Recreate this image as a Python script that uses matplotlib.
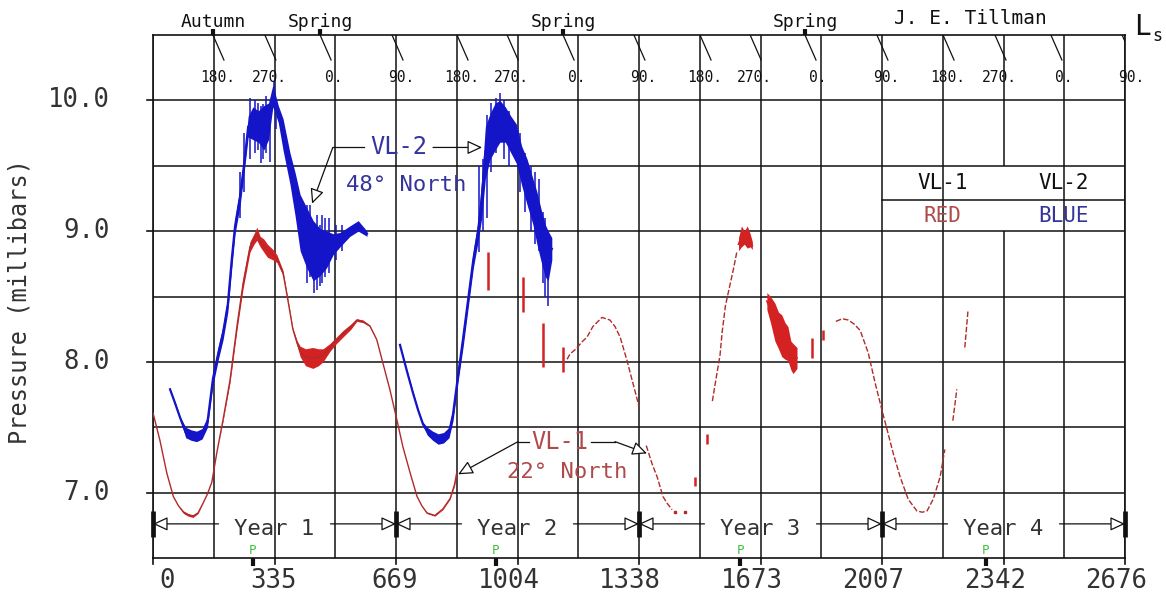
import matplotlib
matplotlib.use("Agg")
import matplotlib.pyplot as plt
import numpy as np

plt.rcParams["font.family"] = ["DejaVu Sans Mono", "DejaVu Sans"]

INK = "#111111"
GREY = "#333333"
BLUE = "#1414c8"
RED = "#d42222"
RED_THIN = "#b02a2a"
LBL_BLUE = "#34349c"
LBL_RED = "#b04a4a"
GREEN = "#3cc03c"

# ---- axes / annotation data (sols since VL-1 landing, pressure in mbar)
x_ticks = [0, 335, 669, 1004, 1338, 1673, 2007, 2342, 2676]
x_tick_labels = ["0", "335", "669", "1004", "1338", "1673", "2007", "2342", "2676"]
y_ticks = [7.0, 8.0, 9.0, 10.0]
y_tick_labels = ["7.0", "8.0", "9.0", "10.0"]
year_bounds = [0, 669, 1338, 2007, 2676]
year_names = ["Year 1", "Year 2", "Year 3", "Year 4"]
perihelion_sol = [275, 944, 1617, 2293]
ls_sol = [165, 308, 460, 658, 837, 975, 1129, 1324, 1506, 1644, 1795, 1993, 2175, 2318, 2472, 2668]
ls_label = ["180.", "270.", "0.", "90."] * 4
season_sol = [165, 460, 1129, 1795]
season_name = ["Autumn", "Spring", "Spring", "Spring"]

# ---- VL-2 (48 N), daily range envelope
vl2_y1_sol = [47, 60, 75, 90, 105, 120, 135, 150, 165, 180, 193, 206, 217, 226, 240, 253, 262,
              275, 290, 305, 318, 330, 345, 358, 377, 391, 405, 423, 441, 460, 478, 496, 515,
              542, 565, 589]
vl2_y1_lo = [7.79, 7.68, 7.56, 7.42, 7.40, 7.39, 7.41, 7.50, 7.82, 8.02, 8.17, 8.38, 8.72, 8.98,
             9.20, 9.50, 9.72, 9.70, 9.68, 9.62, 9.70, 9.95, 9.83, 9.62, 9.36, 9.12, 8.85, 8.72,
             8.62, 8.66, 8.72, 8.82, 8.88, 8.96, 9.00, 8.96]
vl2_y1_hi = [7.79, 7.70, 7.58, 7.50, 7.48, 7.47, 7.49, 7.58, 7.92, 8.12, 8.28, 8.50, 8.86, 9.10,
             9.34, 9.62, 9.88, 9.95, 9.92, 9.96, 9.98, 10.12, 9.96, 9.86, 9.60, 9.45, 9.28, 9.18,
             9.08, 9.02, 9.00, 8.98, 8.99, 9.04, 9.08, 9.00]
vl2_y2_sol = [680, 699, 716, 730, 743, 755, 770, 785, 800, 815, 826, 840, 854, 868, 882, 895, 905,
              915, 928, 942, 955, 970, 985, 1000, 1015, 1030, 1046, 1057, 1070, 1080, 1088, 1098]
vl2_y2_lo = [8.13, 7.92, 7.75, 7.62, 7.51, 7.44, 7.40, 7.37, 7.38, 7.42, 7.55, 7.85, 8.12, 8.42,
             8.72, 8.92, 9.10, 9.40, 9.55, 9.62, 9.68, 9.68, 9.60, 9.52, 9.35, 9.20, 9.05, 8.90,
             8.75, 8.65, 8.62, 8.78]
vl2_y2_hi = [8.13, 7.94, 7.77, 7.64, 7.54, 7.50, 7.47, 7.45, 7.46, 7.50, 7.65, 7.95, 8.25, 8.55,
             8.85, 9.08, 9.40, 9.80, 9.90, 9.98, 10.00, 9.95, 9.88, 9.82, 9.65, 9.55, 9.40, 9.30,
             9.15, 9.05, 9.00, 8.95]
vl2_spike_sol = [240, 250, 266, 280, 288, 296, 304, 312, 322, 333, 340, 425, 432, 444, 452, 459,
                 466, 473, 484, 505, 520,
                 898, 908, 919, 930, 943, 955, 965, 980, 1010, 1025, 1040, 1052, 1062, 1075, 1080,
                 1088]
vl2_spike_lo = [9.10, 9.30, 9.55, 9.60, 9.62, 9.52, 9.55, 9.60, 9.53, 9.95, 9.78, 8.60, 8.65, 8.53,
                8.55, 8.58, 8.60, 8.65, 8.68, 8.78, 8.85,
                8.84, 9.00, 9.10, 9.45, 9.60, 9.75, 9.55, 9.50, 9.30, 9.15, 9.00, 8.90, 8.85, 8.60,
                8.50, 8.43]
vl2_spike_hi = [9.45, 9.75, 10.02, 10.00, 9.98, 9.96, 9.97, 10.03, 9.90, 10.15, 10.00, 9.20, 9.20,
                9.00, 9.12, 9.05, 9.12, 9.10, 9.10, 9.05, 9.05,
                9.50, 9.55, 9.89, 9.98, 10.02, 10.06, 10.00, 9.92, 9.75, 9.60, 9.50, 9.45, 9.40,
                9.15, 9.10, 8.90]

# ---- VL-1 (22 N)
vl1_y1_sol = [0, 19, 38, 56, 70, 84, 97, 110, 124, 138, 150, 162, 176, 193, 212, 231, 248, 267,
              278, 286, 295, 305, 315, 330, 341, 358, 369, 385, 397, 405, 420, 440, 455, 468, 487,
              505, 523, 545, 561, 578, 597, 616, 633, 652, 672, 688, 708, 727, 740, 754, 776, 798,
              818, 830, 836]
vl1_y1_lo = [7.61, 7.40, 7.15, 6.97, 6.90, 6.84, 6.82, 6.81, 6.84, 6.92, 6.99, 7.08, 7.31, 7.55,
             7.84, 8.24, 8.56, 8.84, 8.90, 8.93, 8.88, 8.84, 8.80, 8.78, 8.76, 8.66, 8.50, 8.24,
             8.12, 8.04, 7.97, 7.95, 7.97, 8.00, 8.08, 8.14, 8.19, 8.25, 8.31, 8.30, 8.27, 8.17,
             7.99, 7.79, 7.55, 7.35, 7.15, 6.97, 6.90, 6.84, 6.82, 6.87, 6.95, 7.05, 7.13]
vl1_y1_hi = [7.61, 7.40, 7.15, 6.97, 6.90, 6.86, 6.84, 6.83, 6.85, 6.92, 6.99, 7.08, 7.31, 7.57,
             7.88, 8.30, 8.64, 8.92, 8.98, 9.03, 8.96, 8.94, 8.90, 8.86, 8.82, 8.70, 8.52, 8.26,
             8.16, 8.12, 8.10, 8.11, 8.10, 8.10, 8.14, 8.19, 8.24, 8.29, 8.33, 8.32, 8.28, 8.17,
             7.99, 7.79, 7.55, 7.35, 7.15, 6.97, 6.90, 6.85, 6.83, 6.88, 6.96, 7.07, 7.17]
# broken record after year 1: pieces separated by NaN
vl1_piece_sol = [1140, 1148, 1165, 1180, 1195, 1211, 1236, 1258, 1272, 1286, 1305, 1321, 1338, np.nan,
                 1358, 1374, 1388, 1404, 1415, 1429, np.nan,
                 1540, 1547, 1561, 1567, 1576, 1583, 1598, 1608, np.nan,
                 1880, 1898, 1914, 1930, 1947, 1969, 1988, 2007, 2024, 2038, 2057, 2079, 2103, 2118,
                 2131, 2148, 2167, 2180, np.nan,
                 2202, 2213, np.nan, 2235, 2244]
vl1_piece_p = [8.02, 8.06, 8.10, 8.15, 8.19, 8.27, 8.34, 8.32, 8.27, 8.19, 8.01, 7.84, 7.66, np.nan,
               7.36, 7.22, 7.12, 6.97, 6.92, 6.87, np.nan,
               7.70, 7.82, 8.05, 8.23, 8.43, 8.52, 8.71, 8.85, np.nan,
               8.31, 8.33, 8.32, 8.29, 8.24, 8.07, 7.84, 7.63, 7.45, 7.30, 7.12, 6.95, 6.86, 6.85,
               6.86, 6.95, 7.12, 7.33, np.nan,
               7.55, 7.79, np.nan, 8.11, 8.40]
vl1_frag_sol = [922, 1019, 1074, 1129, 1492, 1525, 1814, 1845]
vl1_frag_lo = [8.55, 8.38, 7.96, 7.92, 7.05, 7.37, 8.03, 8.17]
vl1_frag_hi = [8.84, 8.65, 8.30, 8.11, 7.12, 7.45, 8.18, 8.24]
vl1_dot_sol = [1436, 1465]
vl1_dot_p = [6.85, 6.85]
vl1_peak3_sol = [1612, 1620, 1628, 1636, 1644, 1650]
vl1_peak3_lo = [8.85, 8.88, 8.90, 8.87, 8.88, 8.86]
vl1_peak3_hi = [8.95, 9.04, 9.00, 9.04, 8.98, 8.92]
vl1_fall3_sol = [1690, 1700, 1712, 1722, 1731, 1740, 1748, 1756, 1762, 1773]
vl1_fall3_lo = [8.40, 8.30, 8.16, 8.10, 8.04, 8.02, 8.01, 7.94, 7.91, 7.95]
vl1_fall3_hi = [8.53, 8.50, 8.45, 8.38, 8.36, 8.30, 8.27, 8.16, 8.14, 8.11]

# ---- figure geometry (pixels)
W, H = 1166, 595
AX_L, AX_R, AX_T, AX_B = 153, 1125, 35, 558
XMAX, YMIN, YMAX = 2676, 6.5, 10.5
SPX = XMAX / (AX_R - AX_L)          # sols per pixel
MPX = (YMAX - YMIN) / (AX_B - AX_T)  # mbar per pixel

fig = plt.figure(figsize=(W / 100, H / 100), dpi=100)
ax = fig.add_axes([AX_L / W, 1 - AX_B / H, (AX_R - AX_L) / W, (AX_B - AX_T) / H])
ax.set_xlim(0, XMAX)
ax.set_ylim(YMIN, YMAX)
for s in ax.spines.values():
    s.set_linewidth(1.2)
    s.set_color(INK)

# grid: 16 x 8 cells; the 2342 line is left open behind the colour key
for i in range(17):
    gx = i * XMAX / 16
    if i == 14:
        ax.vlines([gx, gx], [YMIN, 9.5], [9.0, YMAX], color=INK, lw=1.1, zorder=1)
    else:
        ax.vlines(gx, YMIN, YMAX, color=INK, lw=1.1, zorder=1)
for j in range(1, 8):
    ax.axhline(YMIN + j * 0.5, color=INK, lw=1.1, zorder=1)

# ticks drawn by hand: labels sit right-aligned just past the tick
ax.set_xticks([])
ax.set_yticks([])
for t, lab in zip(x_ticks, x_tick_labels):
    ax.plot([t, t], [YMIN, YMIN - 6 * MPX], color=INK, lw=1.2, clip_on=False)
    ax.text(t + 22 * SPX, YMIN - 23 * MPX, lab, ha="right", va="center", fontsize=18.5,
            color=GREY, clip_on=False)
for t, lab in zip(y_ticks, y_tick_labels):
    ax.plot([0, -6 * SPX], [t, t], color=INK, lw=1.2, clip_on=False)
    ax.text(-43 * SPX, t, lab, ha="right", va="center", fontsize=18.5, color=GREY, clip_on=False)
fig.text(20 / W, 1 - 302 / H, "Pressure (millibars)", rotation=90, ha="center", va="center",
         fontsize=17, color=GREY)


def envelope(sol, lo, hi, fill, line, lw):
    """Shaded daily range plus the mean trace so calm stretches stay a thin line."""
    lo, hi = np.asarray(lo), np.asarray(hi)
    ax.fill_between(sol, lo, hi, color=fill, lw=0, zorder=3)
    ax.plot(sol, (lo + hi) / 2, color=line, lw=lw, zorder=3)


# ---- pressure records
envelope(vl2_y1_sol, vl2_y1_lo, vl2_y1_hi, BLUE, BLUE, 1.6)
envelope(vl2_y2_sol, vl2_y2_lo, vl2_y2_hi, BLUE, BLUE, 1.6)
ax.vlines(vl2_spike_sol, vl2_spike_lo, vl2_spike_hi, color=BLUE, lw=1.1, zorder=3)

envelope(vl1_y1_sol, vl1_y1_lo, vl1_y1_hi, RED, RED_THIN, 1.0)
ax.plot(vl1_piece_sol, vl1_piece_p, color=RED_THIN, lw=1.0, ls=(0, (4, 1.5)), zorder=3)
ax.vlines(vl1_frag_sol, vl1_frag_lo, vl1_frag_hi, color=RED, lw=1.8, zorder=3)
ax.plot(vl1_dot_sol, vl1_dot_p, "s", ms=1.8, color=RED_THIN, zorder=3)
envelope(vl1_peak3_sol, vl1_peak3_lo, vl1_peak3_hi, RED, RED, 1.2)
envelope(vl1_fall3_sol, vl1_fall3_lo, vl1_fall3_hi, RED, RED, 1.2)

# ---- lander call-outs
head = dict(arrowstyle="-|>,head_length=0.9,head_width=0.42", fc="white", ec=INK, lw=0.9,
            shrinkA=0, shrinkB=0)
ax.text(677, 9.64, "VL-2", ha="center", va="center", fontsize=17, color=LBL_BLUE, zorder=5)
ax.text(697, 9.35, "48° North", ha="center", va="center", fontsize=16, color=LBL_BLUE, zorder=5)
ax.plot([580, 495], [9.64, 9.64], color=INK, lw=0.9)
ax.annotate("", xy=(438, 9.21), xytext=(495, 9.64), arrowprops=head)
ax.annotate("", xy=(906, 9.64), xytext=(771, 9.64), arrowprops=head)

ax.text(1120, 7.39, "VL-1", ha="center", va="center", fontsize=17, color=LBL_RED, zorder=5)
ax.text(1140, 7.155, "22° North", ha="center", va="center", fontsize=16, color=LBL_RED, zorder=5)
ax.plot([1036, 1005], [7.39, 7.39], color=INK, lw=0.9)
ax.annotate("", xy=(840, 7.14), xytext=(1005, 7.39), arrowprops=head)
ax.plot([1207, 1272], [7.39, 7.39], color=INK, lw=0.9)
ax.annotate("", xy=(1360, 7.30), xytext=(1272, 7.39), arrowprops=head)

# colour key
ax.plot([2007, XMAX], [9.235, 9.235], color=INK, lw=1.1)
ax.text(2174, 9.37, "VL-1", ha="center", va="center", fontsize=15, color=INK)
ax.text(2508, 9.37, "VL-2", ha="center", va="center", fontsize=15, color=INK)
ax.text(2174, 9.115, "RED", ha="center", va="center", fontsize=15, color=LBL_RED)
ax.text(2508, 9.115, "BLUE", ha="center", va="center", fontsize=15, color=LBL_BLUE)

# ---- Mars years along the bottom
y_row = 6.761
gap = 56 * SPX
for b0, b1, name in zip(year_bounds[:-1], year_bounds[1:], year_names):
    mid = (b0 + b1) / 2
    ax.text(mid, y_row - 5 * MPX, name, ha="center", va="center", fontsize=16, color=GREY,
            zorder=5)
    ax.annotate("", xy=(b0, y_row), xytext=(mid - gap, y_row), arrowprops=head)
    ax.annotate("", xy=(b1, y_row), xytext=(mid + gap, y_row), arrowprops=head)
ax.vlines(year_bounds, y_row - 13 * MPX, y_row + 13 * MPX, color=INK, lw=3.4, zorder=6,
          clip_on=False)

for p in perihelion_sol:
    ax.text(p, YMIN + 8 * MPX, "P", ha="center", va="center", fontsize=9, color=GREEN)
    ax.plot([p, p], [YMIN, YMIN - 8 * MPX], color=INK, lw=3, clip_on=False,
            solid_capstyle="butt")

# ---- areocentric longitude along the top
for s, lab in zip(ls_sol, ls_label):
    ax.plot([s, s + 11 * SPX], [YMAX, YMAX - 25 * MPX], color=INK, lw=0.9)
    ax.text(s + 22 * SPX, YMAX - 43 * MPX, lab, ha="right", va="center", fontsize=10.5,
            color=INK)
for s, name in zip(season_sol, season_name):
    ax.plot([s, s], [YMAX, YMAX + 6 * MPX], color=INK, lw=3, clip_on=False,
            solid_capstyle="butt")
    ax.text(s, YMAX + 13 * MPX, name, ha="center", va="center", fontsize=13, color=INK,
            clip_on=False)
fig.text(970 / W, 1 - 18 / H, "J. E. Tillman", ha="center", va="center", fontsize=14, color=INK)
fig.text(1134 / W, 1 - 27 / H, "L", ha="left", va="center", fontsize=20, color=INK)
fig.text(1152 / W, 1 - 36 / H, "s", ha="left", va="center", fontsize=12, color=INK)

fig.savefig("out.png", dpi=100)
